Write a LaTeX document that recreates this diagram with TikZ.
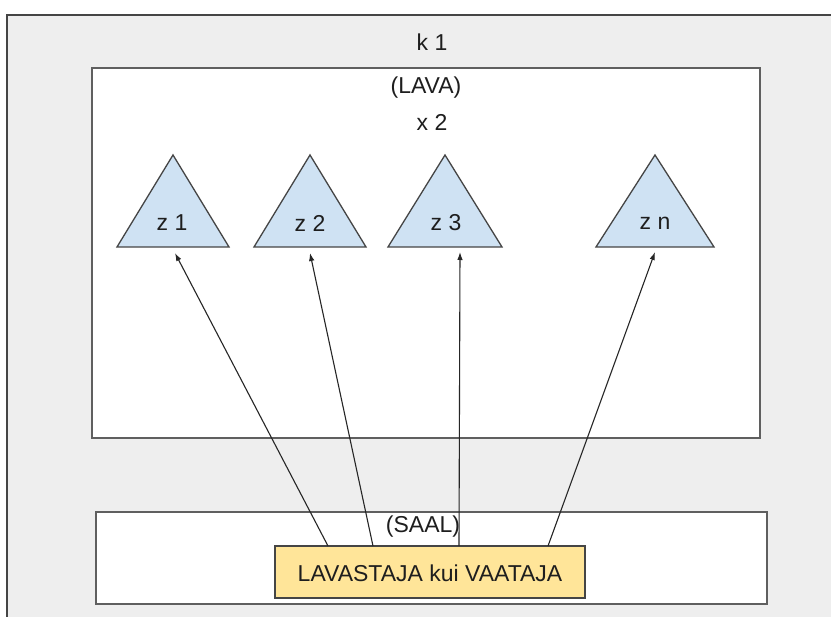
\documentclass[tikz,border=0pt]{standalone}
\usepackage{fontspec}
\setmainfont{Liberation Sans}
\usetikzlibrary{arrows.meta}
\definecolor{outerfill}{HTML}{EEEEEE}
\definecolor{outerline}{HTML}{454545}
\definecolor{boxline}{HTML}{5F5F5F}
\definecolor{trifill}{HTML}{CFE2F3}
\definecolor{yellowfill}{HTML}{FFE599}
\definecolor{txt}{HTML}{1E1E1E}
\tikzset{
  lbl/.style={inner sep=0pt, text=txt, font=\fontsize{23}{25}\selectfont},
  whitebox/.style={draw=boxline, line width=1.8pt, fill=white},
  tri/.style={draw=outerline, line width=1.3pt, fill=trifill, line join=miter},
  ybox/.style={draw=outerline, line width=1.3pt, fill=yellowfill},
  arr/.style={draw=black!85, line width=1.1pt, -{Latex[length=8pt,width=5.5pt]}}
}
\begin{document}
\begin{tikzpicture}[x=1pt,y=-1pt]
\useasboundingbox (0,0) rectangle (831,617);
\fill[white] (0,0) rectangle (831,617);
% outer frame
\draw[fill=outerfill, draw=outerline, line width=2pt] (7,15) rectangle (850,640);
\node[lbl] (k1) at (432,42) {k 1};
% LAVA box
\draw[whitebox] (92,68) rectangle (760,438);
\node[lbl] (lava) at (426,88) {(LAVA)};
\node[lbl] (x2) at (432,122) {x 2};
% triangles
\draw[tri] (173,155) -- (229,247) -- (117,247) -- cycle;
\draw[tri] (310,155) -- (366,247) -- (254,247) -- cycle;
\draw[tri] (445,155) -- (502,247) -- (388,247) -- cycle;
\draw[tri] (655,155) -- (714,247) -- (596,247) -- cycle;
\node[lbl] (z1) at (172,223) {z 1};
\node[lbl] (z2) at (310,223) {z 2};
\node[lbl] (z3) at (446,223) {z 3};
\node[lbl] (zn) at (655,223) {z n};
\coordinate (t1) at (175,253);
\coordinate (t2) at (310,253);
\coordinate (t3) at (460,252);
\coordinate (tn) at (655,252);
% SAAL box
\draw[whitebox] (96,512) rectangle (767,604);
\node[lbl] (saal) at (423,527) {(SAAL)};
\node[ybox, minimum width=310pt, minimum height=52pt, inner sep=0pt] (lv) at (430,572) {};
\node[lbl] (lvt) at (430,573) {LAVASTAJA kui VAATAJA};
\coordinate (s1) at (328,546);
\coordinate (s2) at (373,546);
\coordinate (s3) at (459,546);
\coordinate (sn) at (548,546);
% arrows
\draw[arr] (s1) -- (t1);
\draw[arr] (s2) -- (t2);
\draw[arr] (s3) -- (t3);
\draw[arr] (sn) -- (tn);
\end{tikzpicture}
\end{document}
